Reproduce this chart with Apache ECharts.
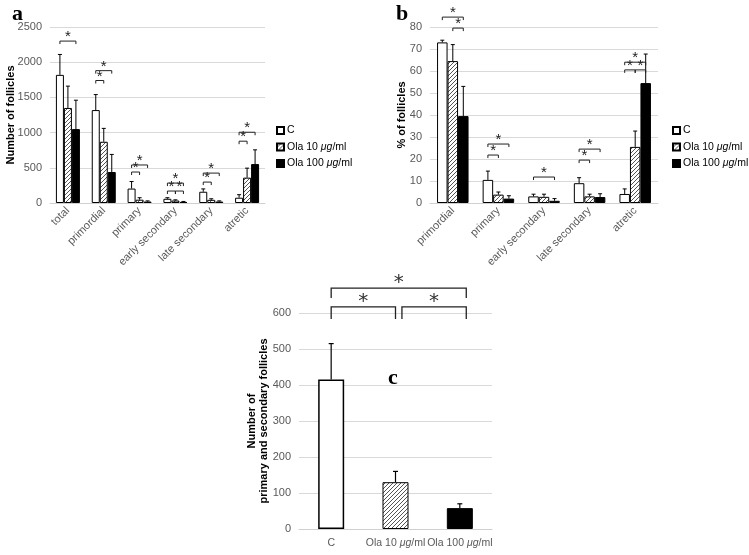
<!DOCTYPE html>
<html><head><meta charset="utf-8">
<script src="https://cdn.jsdelivr.net/npm/echarts@6/dist/echarts.min.js"></script>
<style>html,body{margin:0;padding:0;background:#fff}#c{width:749px;height:555px}</style>
</head><body><div id="c"></div>
<script>
// ---- Panel a: number of follicles ----
const groupsA = ['total','primordial','primary','early secondary','late secondary','atretic'];
const ctrlA     = [1820,1320,205,60,160,75];
const ctrlAErr  = [2110,1540,305,75,200,118];
const ola10A    = [1350,870,47,35,45,360];
const ola10AErr = [1660,1060,75,45,60,495];
const ola100A   = [1050,440,20,15,20,553];
const ola100AErr= [1460,690,30,22,30,755];
// [group, fromBar, toBar, level]
const bracketsA = [[0,0,2,2300],[1,0,2,1880],[1,0,1,1740],[2,0,2,540],[2,0,1,440],
  [3,0,2,283],[3,0,1,170],[3,1,2,170],[4,0,2,425],[4,0,1,297],[5,0,2,1005],[5,0,1,878]];

// ---- Panel b: % of follicles ----
const groupsB = ['primordial','primary','early secondary','late secondary','atretic'];
const ctrlB     = [73,10.5,3,9,4.1];
const ctrlBErr  = [74,14.5,4,11.5,6.4];
const ola10B    = [64.5,3.8,2.8,3,25.5];
const ola10BErr = [72,5,4,4,32.7];
const ola100B   = [39.5,2,1,2.7,54.5];
const ola100BErr= [53,3.3,2,4.2,67.7];
const bracketsB = [[0,0,2,84.5],[0,1,2,79.5],[1,0,2,26.8],[1,0,1,21.8],[2,0,2,11.8],
  [3,0,2,24.5],[3,0,1,19.5],[4,0,2,64],[4,0,1,60.5],[4,1,2,60.5]];

// ---- Panel c: primary and secondary follicles ----
const groupsC = ['C','Ola 10 μg/ml','Ola 100 μg/ml'];
const valuesC = [415,130,58];
const errC    = [515,160,70];
// [from, to, top level, tick bottom level]
const bracketsC = [[0,1,617,583],[1.1,2.1,617,583],[0,2.1,669,642]];

const seriesNames = ['C','Ola 10 μg/ml','Ola 100 μg/ml'];

function hatch(){
  const c=document.createElement('canvas'); c.width=4; c.height=4;
  const g=c.getContext('2d');
  g.fillStyle='#fff'; g.fillRect(0,0,4,4);
  g.strokeStyle='#555'; g.lineWidth=1;
  g.beginPath();
  g.moveTo(0,4); g.lineTo(4,0);
  g.moveTo(-1,1); g.lineTo(1,-1);
  g.moveTo(3,5); g.lineTo(5,3);
  g.stroke();
  return c;
}
const hatchColor = {image: hatch(), repeat:'repeat'};
const fills = ['#fff', hatchColor, '#000'];

const chart = echarts.init(document.getElementById('c'));
const richFmt = n => n.replace('μg','{i|μg}');

function errSeries(idx, vals, errs, bw, capHalf){
  const data=[];
  vals.forEach((arr,k)=>arr.forEach((v,i)=>data.push([i,v,errs[k][i],k])));
  return {type:'custom', xAxisIndex:idx, yAxisIndex:idx, silent:true, clip:false, z:5,
    encode:{x:0,y:1},
    data,
    renderItem(params, api){
      const g=api.value(0), v=api.value(1), e=api.value(2), k=api.value(3);
      const p0=api.coord([g,v]), p1=api.coord([g,e]);
      const x=p0[0]+(k-(vals.length-1)/2)*bw;
      return {type:'group', children:[
        {type:'line', shape:{x1:x,y1:p0[1],x2:x,y2:p1[1]}, style:{stroke:'#000',lineWidth:1}},
        {type:'line', shape:{x1:x-capHalf,y1:p1[1],x2:x+capHalf,y2:p1[1]}, style:{stroke:'#000',lineWidth:1}}
      ]};
    }};
}
function bracketSeries(idx, brs, bw, fs){
  return {type:'custom', xAxisIndex:idx, yAxisIndex:idx, silent:true, clip:false, z:6,
    encode:{x:0,y:3}, data:brs,
    renderItem(params, api){
      const g=api.value(0), f=api.value(1), t=api.value(2), lv=api.value(3);
      const p=api.coord([g,lv]);
      const x1=p[0]+(f-1)*bw, x2=p[0]+(t-1)*bw, y=p[1];
      return {type:'group', children:[
        {type:'polyline', shape:{points:[[x1,y+3],[x1,y],[x2,y],[x2,y+3]]}, style:{stroke:'#222',lineWidth:1,fill:null}},
        {type:'text', style:{text:'*', x:(x1+x2)/2, y:y-4, align:'center', verticalAlign:'middle', fontSize:fs, fontFamily:'Liberation Sans', fill:'#222'}}
      ]};
    }};
}
function bracketSeriesC(brs){
  return {type:'custom', xAxisIndex:2, yAxisIndex:2, silent:true, clip:false, z:6,
    encode:{x:0,y:2}, data:brs,
    renderItem(params, api){
      const f=api.value(0), t=api.value(1), top=api.value(2), bot=api.value(3);
      const band=api.size([1,0])[0];
      const xc = v => api.coord([Math.floor(v),0])[0] + (v-Math.floor(v))*band;
      const x1=xc(f), x2=xc(t), y=api.coord([0,top])[1], yb=api.coord([0,bot])[1];
      return {type:'group', children:[
        {type:'polyline', shape:{points:[[x1,yb],[x1,y],[x2,y],[x2,yb]]}, style:{stroke:'#222',lineWidth:1.3,fill:null}},
        {type:'text', style:{text:'*', x:(x1+x2)/2, y:y-5, align:'center', verticalAlign:'middle', fontSize:20, fontFamily:'DejaVu Sans', fill:'#333'}}
      ]};
    }};
}

const commonY = {type:'value', nameLocation:'middle', nameMoveOverlap:false,
  nameTextStyle:{fontWeight:'bold', fontSize:11, color:'#000', fontFamily:'Liberation Sans'},
  axisLabel:{fontSize:11, color:'#595959', margin:8, fontFamily:'Liberation Sans', formatter: v => String(v)},
  splitLine:{lineStyle:{color:'#d9d9d9'}}, axisLine:{show:false}, axisTick:{show:false}};
const commonX = {type:'category', axisTick:{show:false},
  axisLine:{lineStyle:{color:'#d0d0d0'}},
  axisLabel:{rotate:45, fontSize:11, color:'#595959', margin:6, interval:0, fontFamily:'Liberation Sans'}};

const barsA = [ctrlA, ola10A, ola100A].map((d,k)=>({type:'bar', name:seriesNames[k], xAxisIndex:0, yAxisIndex:0,
  data:d, barWidth:8, barGap:'0%', itemStyle:{color:fills[k], borderColor:'#000', borderWidth:1}}));
const barsB = [ctrlB, ola10B, ola100B].map((d,k)=>({type:'bar', name:seriesNames[k], xAxisIndex:1, yAxisIndex:1,
  data:d, barWidth:10.5, barGap:'0%', itemStyle:{color:fills[k], borderColor:'#000', borderWidth:1}}));
const barC = {type:'bar', xAxisIndex:2, yAxisIndex:2, barWidth:26,
  data: valuesC.map((v,i)=>({value:v, itemStyle:{color:fills[i], borderColor:'#000', borderWidth: i===0?1.5:1}}))};
const errCSeries = {type:'custom', xAxisIndex:2, yAxisIndex:2, silent:true, clip:false, z:5,
  encode:{x:0,y:1}, data: valuesC.map((v,i)=>[i,v,errC[i]]),
  renderItem(params, api){
    const g=api.value(0), p0=api.coord([g,api.value(1)]), p1=api.coord([g,api.value(2)]);
    const x=p0[0];
    return {type:'group', children:[
      {type:'line', shape:{x1:x,y1:p0[1],x2:x,y2:p1[1]}, style:{stroke:'#000',lineWidth:1.2}},
      {type:'line', shape:{x1:x-2.5,y1:p1[1],x2:x+2.5,y2:p1[1]}, style:{stroke:'#000',lineWidth:1.2}}
    ]};
  }};

const legendCommon = {orient:'vertical', itemWidth:7, itemHeight:7, itemGap:5.5, icon:'rect', padding:0,
  data:seriesNames, formatter:richFmt,
  textStyle:{fontSize:10.5, color:'#000', fontFamily:'Liberation Sans', padding:[0,0,0,-2],
    rich:{i:{fontStyle:'italic', fontSize:10.5, color:'#000', fontFamily:'Liberation Sans'}}}};

chart.setOption({
  animation:false,
  backgroundColor:'#fff',
  title:[
    {text:'a', left:7, top:-2, textStyle:{fontFamily:'Liberation Serif', fontWeight:'bold', fontSize:22, color:'#000'}},
    {text:'b', left:391, top:-2, textStyle:{fontFamily:'Liberation Serif', fontWeight:'bold', fontSize:22, color:'#000'}},
    {text:'c', left:383, top:362, textStyle:{fontFamily:'Liberation Serif', fontWeight:'bold', fontSize:22, color:'#000'}}
  ],
  legend:[
    Object.assign({left:276, top:125}, legendCommon),
    Object.assign({left:672, top:125}, legendCommon)
  ],
  grid:[
    {left:50, top:27, width:215, height:176},
    {left:430, top:27, width:228, height:176},
    {left:299, top:313, width:193, height:216}
  ],
  xAxis:[
    Object.assign({}, commonX, {gridIndex:0, data:groupsA}),
    Object.assign({}, commonX, {gridIndex:1, data:groupsB}),
    Object.assign({}, commonX, {gridIndex:2, data:groupsC,
      axisLabel:{rotate:0, fontSize:10.5, color:'#595959', margin:9, interval:0, fontFamily:'Liberation Sans',
        formatter:richFmt, rich:{i:{fontStyle:'italic', fontSize:10.5, color:'#595959', fontFamily:'Liberation Sans'}}}})
  ],
  yAxis:[
    Object.assign({}, commonY, {gridIndex:0, min:0, max:2500, interval:500, name:'Number of follicles', nameGap:34}),
    Object.assign({}, commonY, {gridIndex:1, min:0, max:80, interval:10, name:'% of follicles', nameGap:23}),
    Object.assign({}, commonY, {gridIndex:2, min:0, max:600, interval:100,
      name:'Number of\nprimary and secondary follicles', nameGap:29,
      nameTextStyle:{fontWeight:'bold', fontSize:11, color:'#000', fontFamily:'Liberation Sans', lineHeight:12}})
  ],
  series:[
    ...barsA, ...barsB, barC,
    errSeries(0, [ctrlA, ola10A, ola100A], [ctrlAErr, ola10AErr, ola100AErr], 8, 2),
    errSeries(1, [ctrlB, ola10B, ola100B], [ctrlBErr, ola10BErr, ola100BErr], 10.5, 2),
    errCSeries,
    bracketSeries(0, bracketsA, 8, 15),
    bracketSeries(1, bracketsB, 10.5, 15),
    bracketSeriesC(bracketsC)
  ]
});
</script>
</body></html>
